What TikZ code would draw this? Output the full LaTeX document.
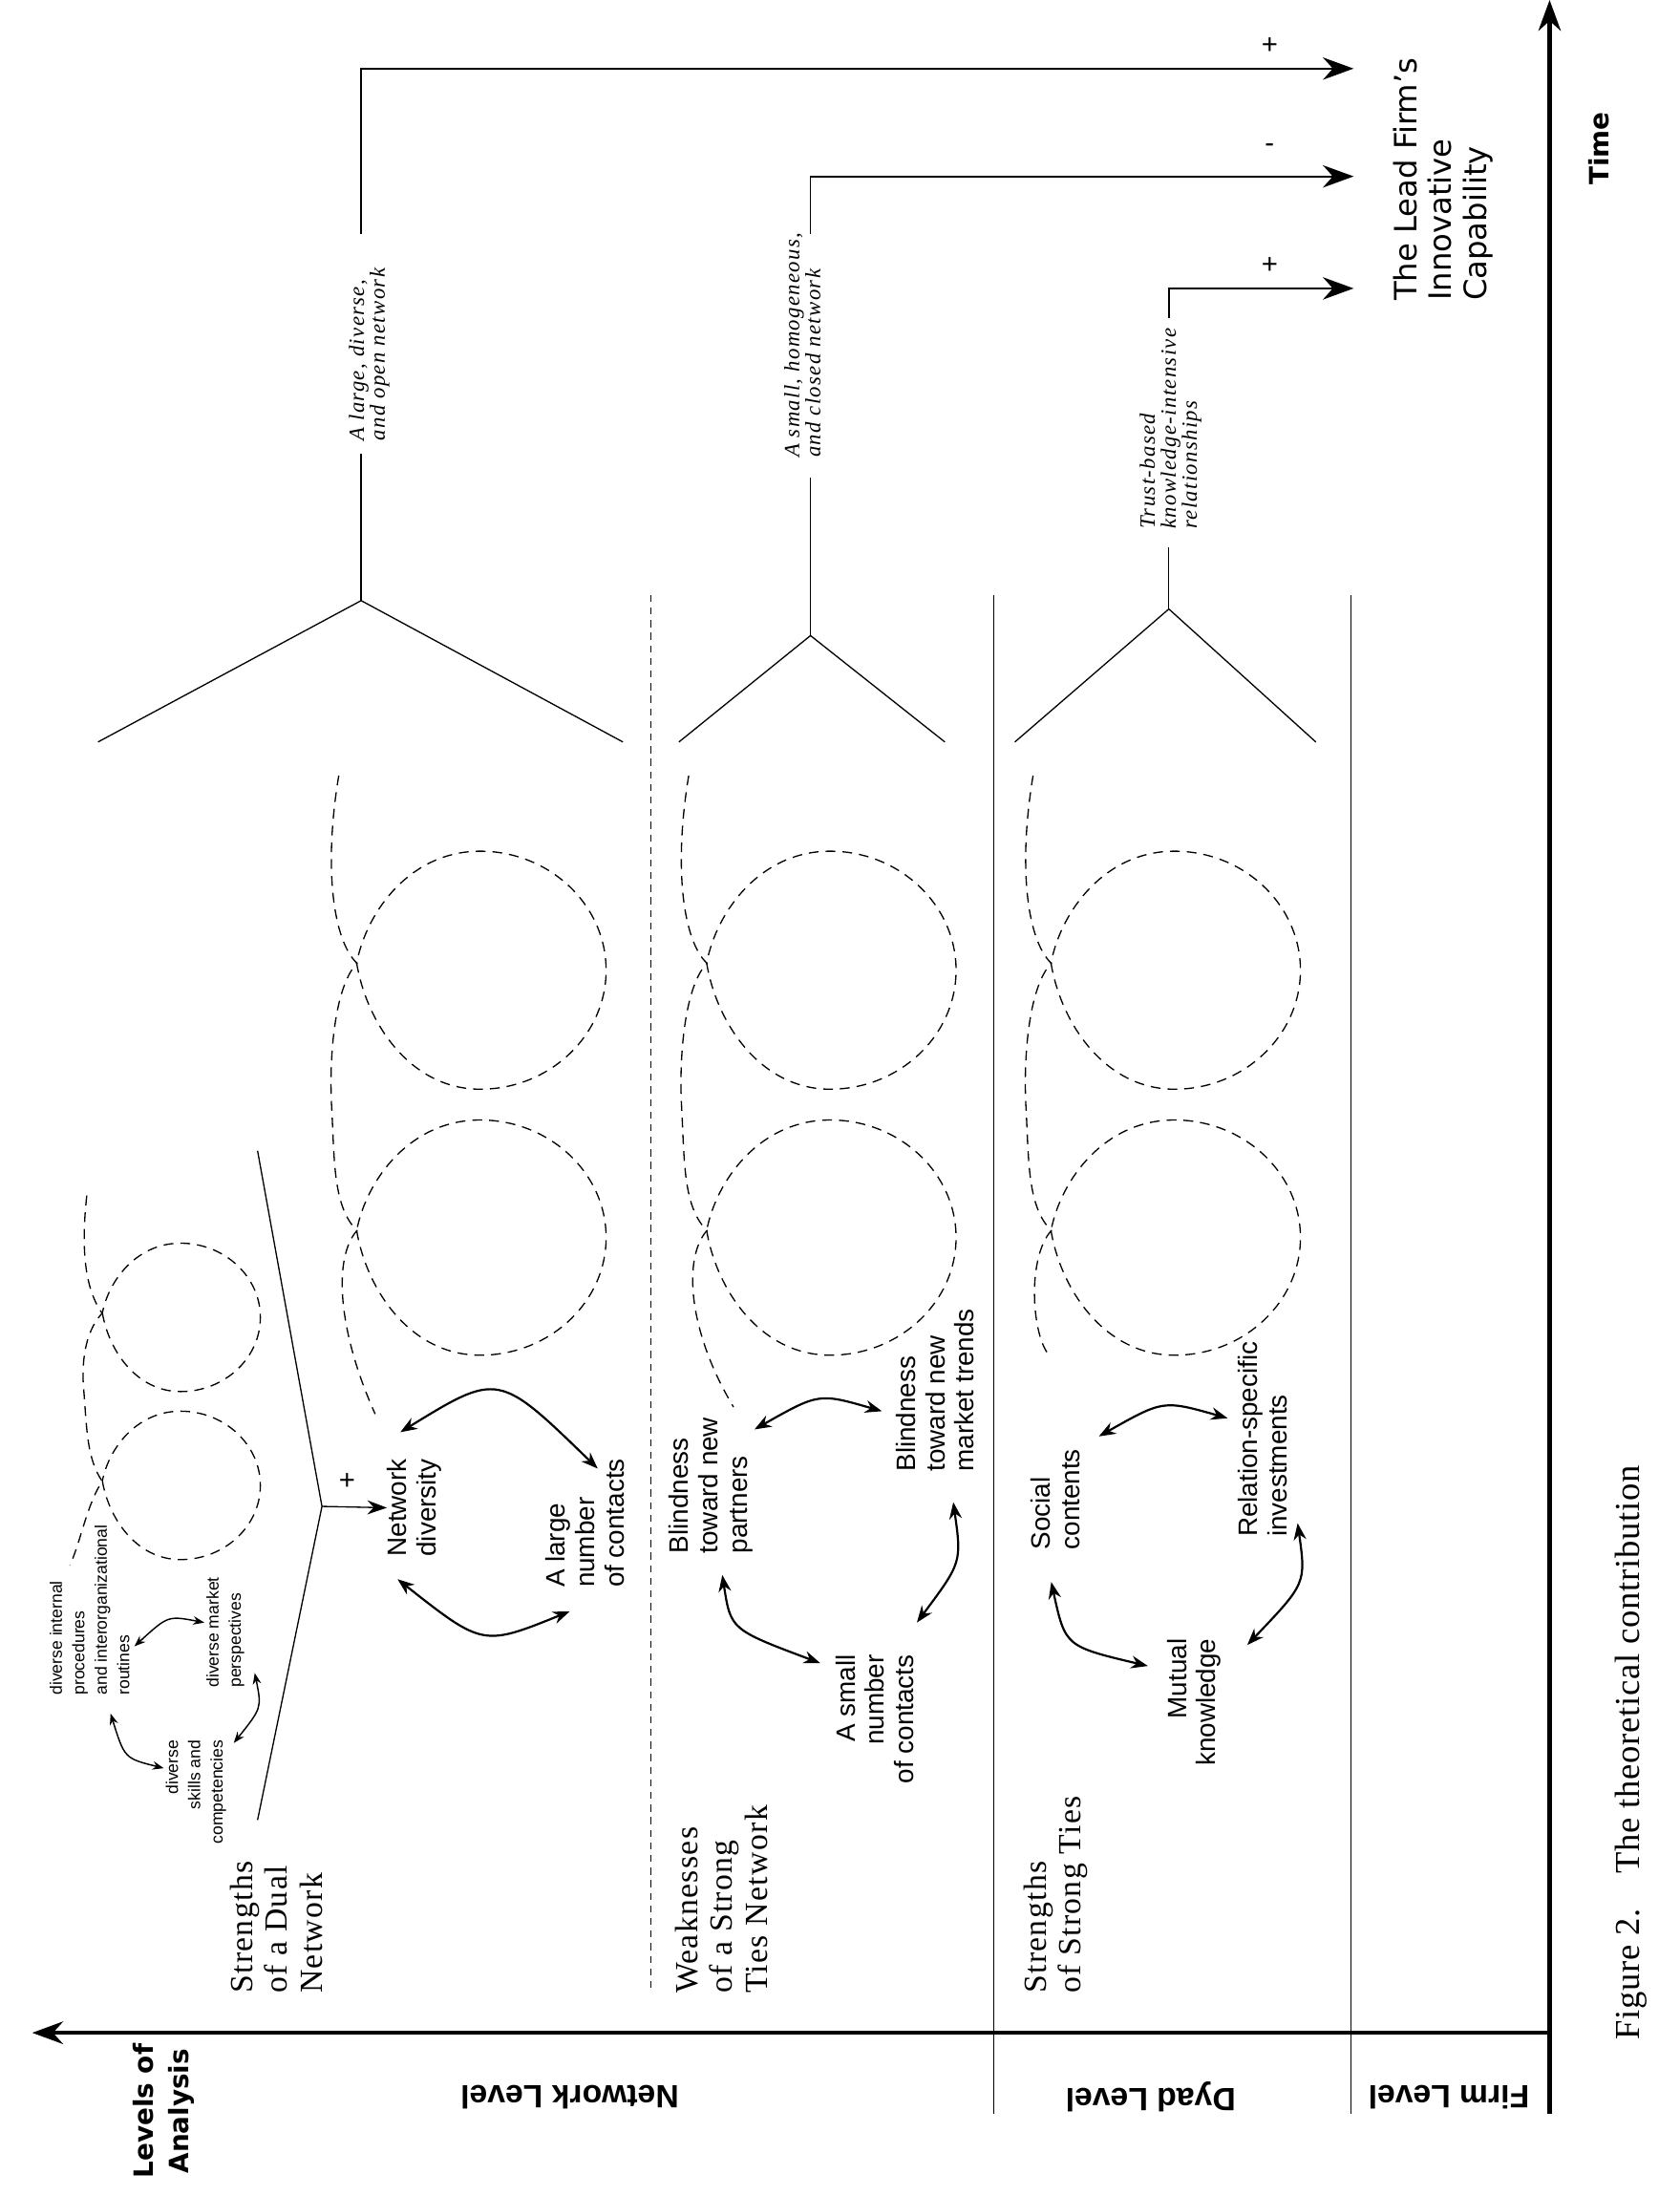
\documentclass[tikz,border=0pt]{standalone}
\usepackage{fontspec}
\setmainfont{Liberation Serif}
\setsansfont{Liberation Sans}
\newfontfamily\dv{DejaVu Sans}
\usetikzlibrary{arrows.meta}
\newcommand\fs[2]{\fontsize{#1}{#2}\selectfont}
% loop: centre (#1,#2), radii #3,#4
\newcommand\loopat[4]{%
  \draw[dsh] ({#1-0.98*#3},{#2-0.06*#4})
    .. controls ({#1-0.9*#3},{#2+0.45*#4}) and ({#1-0.55*#3},{#2+#4}) .. (#1,{#2+#4})
    .. controls ({#1+0.55*#3},{#2+#4}) and ({#1+#3},{#2+0.55*#4}) .. ({#1+#3},#2)
    .. controls ({#1+#3},{#2-0.55*#4}) and ({#1+0.55*#3},{#2-#4}) .. (#1,{#2-#4})
    .. controls ({#1-0.55*#3},{#2-#4}) and ({#1-0.9*#3},{#2-0.5*#4}) .. ({#1-0.98*#3},{#2-0.06*#4});
}
% big chain: centre x #1, end point (#2,#3)
\newcommand\myloops[3]{%
  \loopat{#1}{693}{90}{85}
  \loopat{#1}{884}{90}{84}
  \draw[dsh] ({#1-101},554) .. controls ({#1-112},620) and ({#1-105},672) .. ({#1-88},688)
    .. controls ({#1-105},706) and ({#1-108},760) .. ({#1-106},792)
    .. controls ({#1-104},830) and ({#1-105},862) .. ({#1-88},879)
    .. controls ({#1-105},898) and ({#1-102},950) .. (#2,#3);
}
\begin{document}
\begin{tikzpicture}[x=1pt,y=-1pt,
  dsh/.style={dash pattern=on 7pt off 5pt, line width=0.9pt},
  ln/.style={line width=0.9pt},
  arr/.style={line width=1.5pt, {Stealth[length=12pt,width=9pt]}-{Stealth[length=12pt,width=9pt]}},
  sarr/.style={line width=1pt, {Stealth[length=8pt,width=6pt]}-{Stealth[length=8pt,width=6pt]}},
  big/.style={line width=1.2pt, -{Stealth[length=22pt,width=16pt]}},
  axis/.style={line width=3pt},
  r90/.style={rotate=90, inner sep=0pt},
  lt/.style={r90, font=\sffamily\fs{19}{21}},
  st/.style={r90, font=\sffamily\fs{12}{16}},
  it/.style={r90, anchor=north west, align=left, font=\itshape\addfontfeature{LetterSpace=6}\fs{15.5}{15}},
  ttl/.style={r90, anchor=north west, align=left, font=\addfontfeature{LetterSpace=4}\fs{23}{25}},
  lvl/.style={rotate=180, inner sep=0pt, font=\sffamily\bfseries\fs{23}{25}},
  pm/.style={inner sep=0pt, font=\sffamily\fs{20}{20}}]
\useasboundingbox (0,0) rectangle (1200,1568.6);

% axes
\draw[axis, -{Stealth[length=22pt,width=16pt]}] (1107,1510) -- (1107,0);
\draw[axis, -{Stealth[length=22pt,width=16pt]}] (1107,1452) -- (23,1452);
\draw[ln] (710,425) -- (710,1510);
\draw[ln] (965,425) -- (965,1510);
\draw[ln, dash pattern=on 5pt off 4pt] (465,425) -- (465,1422);

% labels of axes
\node[r90, align=center, font=\dv\bfseries\fs{19}{25}] (loa) at (117,1508) {Levels of\\Analysis};
\node[r90, font=\dv\bfseries\fs{19}{22}] (time) at (1142,106) {Time};
\node[lvl] (nl) at (407,1498) {Network Level};
\node[lvl] (dl) at (822,1498) {Dyad Level};
\node[lvl] (fl) at (1035,1498) {Firm Level};
\node[r90, font=\addfontfeature{LetterSpace=2}\fs{25}{28}] (cap) at (1165,1252) {Figure 2.\quad The theoretical contribution};
\node[r90, anchor=north west, align=left, font=\dv\fs{22}{25}] (lfic) at (995,215) {The Lead Firm’s\\Innovative\\Capability};

% section titles
\node[ttl] (t1) at (164,1424) {Strengths\\of a Dual\\Network};
\node[ttl] (t2) at (482,1424) {Weaknesses\\of a Strong\\Ties Network};
\node[ttl] (t3) at (731,1424) {Strengths\\of Strong Ties};

% loops
\myloops{343}{268}{1010}
\myloops{593}{524}{1005}
\myloops{839}{748}{966}
\loopat{129}{941}{57}{53}
\loopat{129}{1061}{57}{53}
\draw[dsh] (62,854) .. controls (58,890) and (60,920) .. (73,938)
  .. controls (60,952) and (58,975) .. (60,995)
  .. controls (62,1020) and (62,1042) .. (73,1058)
  .. controls (62,1075) and (58,1100) .. (50,1118);

% dual network small part
\node[st, align=left] (rout) at (64,1150) {diverse internal\\procedures\\and interorganizational\\routines};
\node[st, align=left] (mkt) at (161,1166) {diverse market\\perspectives};
\node[st, align=right] (skl) at (140,1280) {diverse\\skills and\\competencies};
\draw[sarr] (96,1176) .. controls (120,1154) .. (146,1159);
\draw[sarr] (182,1195) .. controls (187,1220) .. (167,1245);
\draw[sarr] (79,1224) .. controls (89,1256) .. (117,1263);
\coordinate (yt) at (184,822);
\coordinate (yb) at (184,1300);
\coordinate (yj) at (230,1076);
\draw[ln] (yt) -- (yj) -- (yb);
\node[pm] (p0) at (248,1058) {+};

% network loop texts
\node[lt, align=right] (nd) at (296,1077) {Network\\diversity};
\node[lt, align=left] (lnc) at (418,1088) {A large\\number\\of contacts};
\draw[ln, -{Stealth[length=14pt,width=10pt]}] (yj) -- (nd.north);
\draw[arr] (286,1023) .. controls (356,980) .. (427,1049);
\draw[arr] (284,1128) .. controls (345,1176) .. (407,1151);

% weakness texts
\node[lt, align=left] (bp) at (508,1061) {Blindness\\toward new\\partners};
\node[lt, align=left] (bm) at (668,993) {Blindness\\toward new\\market trends};
\node[lt, align=right] (snc) at (625,1228) {A small\\number\\of contacts};
\draw[arr] (539,1021) .. controls (585,995) .. (630,1008);
\draw[arr] (681,1073) .. controls (687,1116) .. (655,1159);
\draw[arr] (516,1125) .. controls (522,1164) .. (586,1188);

% dyad texts
\node[lt, align=left] (sc) at (754,1071) {Social\\contents};
\node[lt, align=left] (rsi) at (902,1028) {Relation-specific\\investments};
\node[lt, align=right] (mk) at (853,1216) {Mutual\\knowledge};
\draw[arr] (785,1026) .. controls (831,1000) .. (877,1013);
\draw[arr] (927,1088) .. controls (933,1131) .. (891,1175);
\draw[arr] (751,1130) .. controls (761,1176) .. (820,1190);

% V shapes and outcome arrows
\coordinate (a1) at (258,429);
\coordinate (a2) at (579,454);
\coordinate (a3) at (835,435);
\draw[ln] (70,530) -- (a1) -- (445,530);
\draw[ln] (485,530) -- (a2) -- (675,530);
\draw[ln] (725,530) -- (a3) -- (940,530);
\node[it] (l1) at (249,315) {A large, diverse,\\and open network};
\node[it] (l2) at (560,327) {A small, homogeneous,\\and closed network};
\node[it] (l3) at (814,378) {Trust-based\\knowledge-intensive\\relationships};
\coordinate (e1) at (967,49);
\coordinate (e2) at (967,126);
\coordinate (e3) at (967,206);
\draw[ln] (a1) -- (258,324);
\draw[big] (258,167) -- (258,49) -- (e1);
\draw[ln] (a2) -- (579,341);
\draw[big] (579,167) -- (579,126) -- (e2);
\draw[ln] (a3) -- (835,391);
\draw[big] (835,227) -- (835,206) -- (e3);
\node[pm] (p1) at (907,33) {+};
\node[pm] (p2) at (907,106) {-};
\node[pm] (p3) at (907,190) {+};
\end{tikzpicture}
\end{document}
